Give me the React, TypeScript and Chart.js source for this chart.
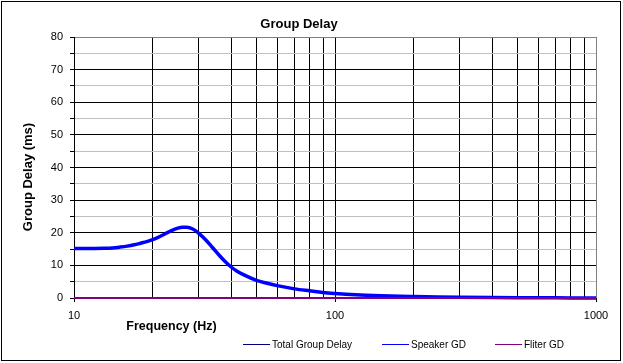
import React, { useEffect, useRef } from "react";
import { Chart, registerables } from "chart.js";

Chart.register(...registerables);

const chartTitle = "Group Delay";
const xTitle = "Frequency (Hz)";
const yTitle = "Group Delay (ms)";

const frequencies = [
  10, 11, 12, 13, 14, 15, 16, 17, 18, 19, 20, 21, 22, 23, 24, 25, 26, 27, 28, 29, 30,
  32, 34, 36, 38, 40, 42, 45, 50, 55, 60, 70, 80, 90, 100, 120, 150, 200, 250, 300,
  400, 500, 700, 1000,
];

const speakerGD = [
  15.2, 15.2, 15.2, 15.25, 15.35, 15.6, 15.9, 16.3, 16.8, 17.3, 17.9, 18.6, 19.4, 20.2,
  20.9, 21.4, 21.7, 21.7, 21.4, 20.8, 19.9, 17.8, 15.4, 13.1, 11.1, 9.5, 8.3, 7.0, 5.4,
  4.5, 3.8, 2.8, 2.2, 1.7, 1.4, 1.0, 0.7, 0.45, 0.3, 0.22, 0.13, 0.09, 0.05, 0.02,
];

const filterGD = [
  0, 0, 0, 0, 0, 0, 0, 0, 0, 0, 0, 0, 0, 0, 0, 0, 0, 0, 0, 0, 0, 0, 0, 0, 0, 0, 0, 0, 0,
  0, 0, 0, 0, 0, 0, 0, 0, 0, 0, 0, 0, 0, 0, 0,
];

const totalGD = [
  15.2, 15.2, 15.2, 15.25, 15.35, 15.6, 15.9, 16.3, 16.8, 17.3, 17.9, 18.6, 19.4, 20.2,
  20.9, 21.4, 21.7, 21.7, 21.4, 20.8, 19.9, 17.8, 15.4, 13.1, 11.1, 9.5, 8.3, 7.0, 5.4,
  4.5, 3.8, 2.8, 2.2, 1.7, 1.4, 1.0, 0.7, 0.45, 0.3, 0.22, 0.13, 0.09, 0.05, 0.02,
];

const seriesNames = ["Total Group Delay", "Speaker GD", "Fliter GD"];
const seriesColors = ["#000080", "#0000FF", "#800080"];

const yMin = 0;
const yMax = 80;
const xMin = 10;
const xMax = 1000;
const xLabelTicks = [10, 100, 1000];

const FONT = "'Liberation Sans', Arial, sans-serif";

function toPoints(vals: number[]) {
  return frequencies.map((f, i) => ({ x: f, y: vals[i] }));
}

const overlayPlugin = {
  id: "overlay",
  afterDraw(chart: any) {
    const ctx = chart.ctx as CanvasRenderingContext2D;
    const area = chart.chartArea;
    ctx.save();
    // outer border
    ctx.strokeStyle = "#000";
    ctx.lineWidth = 1;
    ctx.strokeRect(1.5, 1.5, 619, 359);

    ctx.fillStyle = "#000";
    // title
    ctx.font = `bold 13px ${FONT}`;
    ctx.textAlign = "center";
    ctx.textBaseline = "alphabetic";
    ctx.fillText(chartTitle, 299, 28);

    // x title
    ctx.font = `bold 12.5px ${FONT}`;
    ctx.fillText(xTitle, area.left + 97.5, 330);

    // y title
    ctx.save();
    ctx.translate(28.5, 177);
    ctx.rotate(-Math.PI / 2);
    ctx.font = `bold 13px ${FONT}`;
    ctx.textBaseline = "middle";
    ctx.fillText(yTitle, 0, 0);
    ctx.restore();

    // legend
    const legendX = [243, 382, 495];
    ctx.font = `10px ${FONT}`;
    ctx.textAlign = "left";
    ctx.textBaseline = "alphabetic";
    chart.data.datasets.forEach((ds: any, i: number) => {
      const lx = legendX[i];
      ctx.strokeStyle = ds.borderColor;
      ctx.lineWidth = 1;
      ctx.beginPath();
      ctx.moveTo(lx, 344.5);
      ctx.lineTo(lx + 27, 344.5);
      ctx.stroke();
      ctx.fillStyle = "#000";
      ctx.fillText(ds.label, lx + 29, 348);
    });
    ctx.restore();
  },
};

export default function App() {
  const canvasRef = useRef<HTMLCanvasElement | null>(null);

  useEffect(() => {
    document.body.style.margin = "0";
    const canvas = canvasRef.current;
    if (!canvas) return;
    const chart = new Chart(canvas, {
      type: "line",
      data: {
        datasets: [
          {
            label: seriesNames[0],
            data: toPoints(totalGD),
            borderColor: seriesColors[0],
            borderWidth: 1,
            pointRadius: 0,
            cubicInterpolationMode: "monotone",
            clip: false,
            order: 3,
          },
          {
            label: seriesNames[1],
            data: toPoints(speakerGD),
            borderColor: seriesColors[1],
            borderWidth: 3.5,
            pointRadius: 0,
            cubicInterpolationMode: "monotone",
            clip: false,
            order: 2,
          },
          {
            label: seriesNames[2],
            data: toPoints(filterGD),
            borderColor: seriesColors[2],
            borderWidth: 2,
            pointRadius: 0,
            tension: 0,
            clip: false,
            order: 1,
          },
        ],
      },
      options: {
        responsive: false,
        animation: false,
        devicePixelRatio: 1,
        layout: { padding: { top: 37, right: 27, bottom: 0, left: 0 } },
        plugins: {
          legend: { display: false },
          title: { display: false },
          tooltip: { enabled: false },
        },
        scales: {
          x: {
            type: "logarithmic",
            min: xMin,
            max: xMax,
            afterFit: (scale: any) => {
              scale.height = 65;
            },
            afterBuildTicks: (scale: any) => {
              const t: any[] = [];
              for (let d = 10; d < 1000; d *= 10) {
                for (let m = 1; m < 10; m++) t.push({ value: d * m });
              }
              t.push({ value: 1000 });
              scale.ticks = t;
            },
            border: { color: "#000", width: 1 },
            grid: {
              color: (c: any) => (c.tick && c.tick.value === xMax ? "#808080" : "#000"),
              lineWidth: 1,
              tickLength: 4,
              tickColor: (c: any) =>
                c.tick && xLabelTicks.includes(c.tick.value) ? "#000" : "rgba(0,0,0,0)",
            },
            ticks: {
              autoSkip: false,
              maxRotation: 0,
              minRotation: 0,
              padding: 7,
              color: "#000",
              font: { family: FONT, size: 11 },
              callback: (v: any) => (xLabelTicks.includes(Number(v)) ? String(v) : ""),
            },
          },
          y: {
            min: yMin,
            max: yMax,
            afterFit: (scale: any) => {
              scale.width = 74;
            },
            border: { color: "#000", width: 1 },
            grid: {
              color: (c: any) => {
                const v = c.tick ? c.tick.value : 0;
                if (v === yMax) return "#808080";
                return v % 10 === 0 ? "#000" : "#c0c0c0";
              },
              lineWidth: 1,
              tickLength: 4,
              tickColor: "#000",
            },
            ticks: {
              stepSize: 5,
              padding: 7,
              color: "#000",
              font: { family: FONT, size: 11 },
              callback: (v: any) => (Number(v) % 10 === 0 ? String(v) : ""),
            },
          },
        },
      },
      plugins: [overlayPlugin],
    });
    return () => chart.destroy();
  }, []);

  return (
    <div style={{ width: 623, height: 363, background: "#fff" }}>
      <canvas ref={canvasRef} width={623} height={363} style={{ display: "block" }} />
    </div>
  );
}
